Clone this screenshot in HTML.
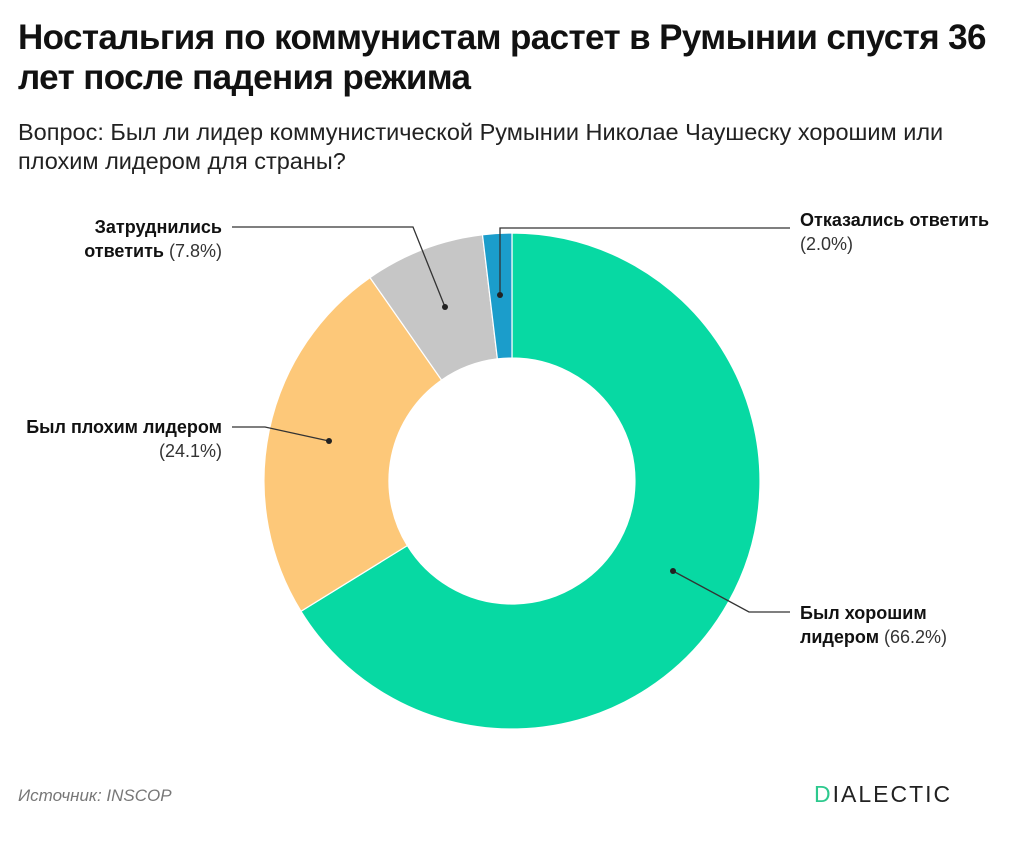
<!DOCTYPE html>
<html><head><meta charset="utf-8"><style>
html,body{margin:0;padding:0;background:#fff;}
body{width:1024px;height:856px;position:relative;overflow:hidden;font-family:"Liberation Sans",Arial,sans-serif;color:#111;}
h1{position:absolute;left:18px;top:18px;margin:0;font-size:35px;line-height:40px;font-weight:bold;letter-spacing:-0.6px;width:1000px;}
.sub{position:absolute;left:18px;top:118px;margin:0;font-size:23.5px;line-height:29px;color:#222;width:945px;}
.src{position:absolute;left:18px;top:786px;font-size:17px;font-style:italic;color:#777;}
.logo{position:absolute;left:814px;top:781px;font-size:23px;letter-spacing:2px;color:#222;}
.logo b{color:#2dc98e;font-weight:normal;}
</style></head><body>
<h1>Ностальгия по коммунистам растет в Румынии спустя 36 лет после падения режима</h1>
<div class="sub">Вопрос: Был ли лидер коммунистической Румынии Николае Чаушеску хорошим или плохим лидером для страны?</div>
<svg width="1024" height="856" style="position:absolute;left:0;top:0" font-family="Liberation Sans, Arial, sans-serif" font-size="18">
<g stroke="#fff" stroke-width="1.2">
<path d="M512,233 A248,248 0 1 1 301.0,611.3 L407.3,545.6 A123,123 0 1 0 512,358 Z" fill="#07d9a3"/>
<path d="M301.0,611.3 A248,248 0 0 1 370.0,277.6 L441.6,380.1 A123,123 0 0 0 407.3,545.6 Z" fill="#fdc879"/>
<path d="M370.0,277.6 A248,248 0 0 1 482.5,234.8 L497.4,358.9 A123,123 0 0 0 441.6,380.1 Z" fill="#c6c6c6"/>
<path d="M482.5,234.8 A248,248 0 0 1 512,233 L512,358 A123,123 0 0 0 497.4,358.9 Z" fill="#1b9dcb"/>
</g>
<g stroke="#333" stroke-width="1.3" fill="none">
<polyline points="673,571 749,612 790,612"/>
<polyline points="329,441 265,427 232,427"/>
<polyline points="445,307 413,227 232,227"/>
<polyline points="500,295 500,228 790,228"/>
</g>
<g fill="#222"><circle cx="673" cy="571" r="3"/><circle cx="329" cy="441" r="3"/><circle cx="445" cy="307" r="3"/><circle cx="500" cy="295" r="3"/></g>
<g fill="#111">
<text x="800" y="619" font-weight="bold">Был хорошим</text>
<text x="800" y="643"><tspan font-weight="bold">лидером</tspan><tspan fill="#333"> (66.2%)</tspan></text>
<text x="222" y="433" text-anchor="end" font-weight="bold">Был плохим лидером</text>
<text x="222" y="457" text-anchor="end" fill="#333">(24.1%)</text>
<text x="222" y="233" text-anchor="end" font-weight="bold">Затруднились</text>
<text x="222" y="257" text-anchor="end"><tspan font-weight="bold">ответить</tspan><tspan fill="#333"> (7.8%)</tspan></text>
<text x="800" y="226" font-weight="bold">Отказались ответить</text>
<text x="800" y="250" fill="#333">(2.0%)</text>
</g>
</svg>
<div class="src">Источник: INSCOP</div>
<div class="logo"><b>D</b>IALECTIC</div>
</body></html>
